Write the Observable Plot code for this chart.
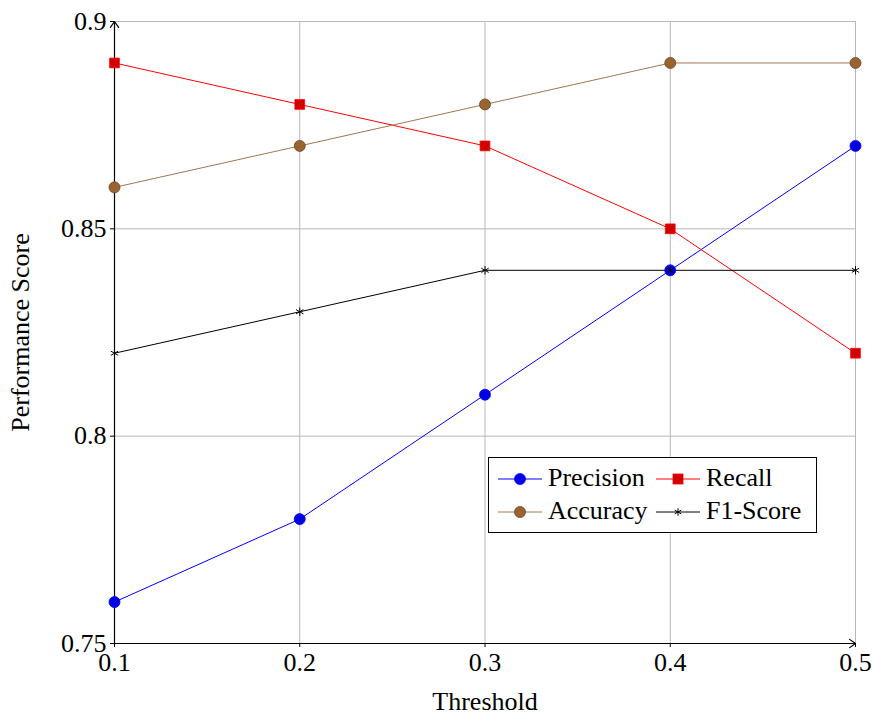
<!DOCTYPE html>
<html><head><meta charset="utf-8">
<script src="https://cdn.jsdelivr.net/npm/d3@7"></script>
<script src="https://cdn.jsdelivr.net/npm/@observablehq/plot@0.6"></script>
<style>
body{margin:0;background:#fff;font-family:"Liberation Serif","Times New Roman",serif;}
svg text{font-family:"Liberation Serif","Times New Roman",serif !important;font-variant-numeric:normal !important;}
#wrap{position:relative;width:872px;height:715px;}
#legend{position:absolute;left:488px;top:457px;width:329px;height:76px;border:1.5px solid #000;background:#fff;box-sizing:border-box;}
.sample{position:absolute;}
.txt{position:absolute;font-family:"Liberation Serif","Times New Roman",serif;font-size:26px;line-height:26px;white-space:nowrap;}
</style></head>
<body><div id="wrap"><div id="legend"></div></div>
<script>
const thresholds = [0.1, 0.2, 0.3, 0.4, 0.5];
const precision = [0.76, 0.78, 0.81, 0.84, 0.87];
const recall = [0.89, 0.88, 0.87, 0.85, 0.82];
const accuracy = [0.86, 0.87, 0.88, 0.89, 0.89];
const f1 = [0.82, 0.83, 0.84, 0.84, 0.84];
const xTicks = [0.1, 0.2, 0.3, 0.4, 0.5];
const yTicks = [0.75, 0.8, 0.85, 0.9];

const rows = (vals) => thresholds.map((t, i) => ({x: t, y: vals[i]}));
const P = rows(precision), R = rows(recall), A = rows(accuracy), F = rows(f1);
const xMin = xTicks[0], xMax = xTicks[xTicks.length - 1];
const yMin = yTicks[0], yMax = yTicks[yTicks.length - 1];

const chart = Plot.plot({
  width: 872, height: 715,
  marginLeft: 114, marginRight: 17, marginTop: 21, marginBottom: 72,
  style: {fontFamily: "Liberation Serif, Times New Roman, serif", fontSize: "26px", background: "#fff", overflow: "visible"},
  x: {domain: [xMin, xMax]},
  y: {domain: [yMin, yMax]},
  marks: [
    Plot.gridX(xTicks, {stroke: "#b8b8b8", strokeOpacity: 1}),
    Plot.gridY(yTicks, {stroke: "#b8b8b8", strokeOpacity: 1}),
    Plot.axisX(xTicks, {tickSize: 4, tickPadding: 5, fontSize: 26, label: "Threshold", labelAnchor: "center", labelOffset: 66, labelArrow: "none", tickFormat: d => String(d)}),
    Plot.axisY(yTicks, {tickSize: 4, tickPadding: 4, fontSize: 26, label: "Performance Score", labelAnchor: "center", labelOffset: 104, labelArrow: "none", tickFormat: d => String(d)}),
    Plot.arrow([{x1: xMin, y1: yMin, x2: xMax, y2: yMin}], {x1: "x1", y1: "y1", x2: "x2", y2: "y2", stroke: "#000", strokeWidth: 1.2, headLength: 9, headAngle: 70}),
    Plot.arrow([{x1: xMin, y1: yMin, x2: xMin, y2: yMax}], {x1: "x1", y1: "y1", x2: "x2", y2: "y2", stroke: "#000", strokeWidth: 1.2, headLength: 9, headAngle: 70}),
    Plot.line(P, {x: "x", y: "y", stroke: "#0000ff", strokeWidth: 1}),
    Plot.line(R, {x: "x", y: "y", stroke: "#ff0000", strokeWidth: 1}),
    Plot.line(A, {x: "x", y: "y", stroke: "#a07850", strokeWidth: 1}),
    Plot.line(F, {x: "x", y: "y", stroke: "#000", strokeWidth: 1}),
    Plot.dot(P, {x: "x", y: "y", r: 5.5, fill: "#0000e0", stroke: "#0000ff", strokeWidth: 0.8}),
    Plot.dot(R, {x: "x", y: "y", symbol: "square", r: 5.5, fill: "#d00000", stroke: "#ff0000", strokeWidth: 0.8}),
    Plot.dot(A, {x: "x", y: "y", r: 5.5, fill: "#9a6430", stroke: "#6b4420", strokeWidth: 0.8}),
    Plot.dot(F, {x: "x", y: "y", symbol: "asterisk", r: 4, stroke: "#000", strokeWidth: 1})
  ]
});
document.getElementById("wrap").prepend(chart);

const legendItems = [
  {label: "Precision", line: "#0000ff", kind: "circle", fill: "#0000e0", stroke: "#0000ff", left: 8, top: 21},
  {label: "Recall", line: "#ff0000", kind: "square", fill: "#d00000", stroke: "#ff0000", left: 166, top: 21},
  {label: "Accuracy", line: "#a07850", kind: "circle", fill: "#9a6430", stroke: "#6b4420", left: 8, top: 54},
  {label: "F1-Score", line: "#000", kind: "star", fill: "none", stroke: "#000", left: 166, top: 54}
];
const leg = d3.select("#legend");
for (const it of legendItems) {
  const s = leg.append("svg").attr("class", "sample").attr("width", 46).attr("height", 20)
    .style("left", it.left + "px").style("top", (it.top - 10) + "px");
  s.append("line").attr("x1", 1).attr("x2", 45).attr("y1", 10).attr("y2", 10).attr("stroke", it.line).attr("stroke-width", 1);
  if (it.kind === "circle") s.append("circle").attr("cx", 23).attr("cy", 10).attr("r", 5.5).attr("fill", it.fill).attr("stroke", it.stroke).attr("stroke-width", 0.8);
  else if (it.kind === "square") s.append("rect").attr("x", 18).attr("y", 5).attr("width", 10).attr("height", 10).attr("fill", it.fill).attr("stroke", it.stroke).attr("stroke-width", 0.8);
  else s.append("path").attr("transform", "translate(23,10)").attr("d", d3.symbol(d3.symbolAsterisk, 40)()).attr("stroke", "#000").attr("fill", "none");
  leg.append("div").attr("class", "txt").style("left", (it.left + 51) + "px").style("top", (it.top - 14) + "px").text(it.label);
}
</script></body></html>
